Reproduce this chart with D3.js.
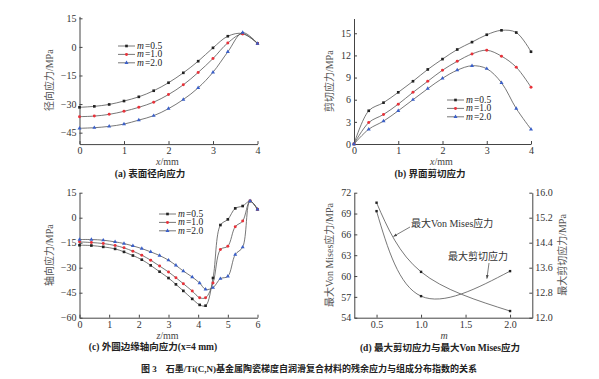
<!DOCTYPE html>
<html><head><meta charset="utf-8">
<script src="https://cdn.jsdelivr.net/npm/d3@7"></script>
<style>
body{margin:0;background:#fff}
svg text{font-family:"Liberation Serif","Noto Sans CJK SC",serif}
</style></head><body>
<svg id="chart" width="599" height="379"></svg>
<script>
// (a) surface radial stress, x in mm
const xSurf = [0, 0.333, 0.667, 1, 1.333, 1.667, 2, 2.333, 2.667, 3, 3.333, 3.667, 4]
const radialM05 = [-31.7, -31.2, -30.2, -28.4, -26.2, -23, -18.8, -13.6, -7.5, -0.5, 5.6, 7, 1.8]
const radialM10 = [-36.6, -36.3, -35.4, -33.8, -31.7, -29, -25, -19.9, -13.4, -6.1, 2.1, 6.8, 1.8]
const radialM20 = [-42.7, -42.4, -41.7, -40.5, -38.4, -36.1, -32.4, -27.6, -21.5, -13.3, -2.6, 7.5, 1.8]

// (b) interface shear stress
const shearM05 = [0, 4.5, 5.6, 7.0, 8.5, 10.1, 11.5, 12.8, 13.8, 14.8, 15.4, 15.1, 12.5]
const shearM10 = [0, 2.9, 4.0, 5.4, 7.0, 8.5, 10.0, 11.2, 12.2, 12.7, 11.9, 10.4, 7.7]
const shearM20 = [0, 2.0, 3.1, 4.5, 6.0, 7.5, 8.9, 10.0, 10.6, 10.2, 8.3, 4.8, 2.0]

// (c) axial stress on outer edge, z in mm
const zEdge = [0, 0.4, 0.8, 1.2, 1.5, 1.8, 2.1, 2.4, 2.7, 3.0, 3.25, 3.5, 3.8, 4.05, 4.25, 4.5, 4.75, 5.0, 5.25, 5.5, 5.75, 6.0]
const axialM05 = [-16.5, -16.7, -17.5, -18.7, -20.5, -22.7, -25.2, -28.6, -32.4, -36.2, -40, -43.9, -48.7, -52.3, -52.8, -36.2, -4.4, -1, 5.6, 7, 10, 5]
const axialM10 = [-14.5, -14.9, -15.5, -16.7, -18.1, -20.1, -22.5, -25.5, -29, -32.6, -36, -39.6, -44, -48, -48, -39.2, -19.1, -17.1, -5.4, -2, 10, 5]
const axialM20 = [-13.1, -13.1, -13.5, -14.5, -15.5, -16.9, -18.5, -20.5, -22.7, -25.5, -28.6, -32, -35.6, -39.2, -43, -42, -36.6, -35.2, -22.1, -17.7, 10, 5]

// (d) maxima vs m
const mVals = [0.5, 1.0, 2.0]
const maxVonMises = [70.56, 60.6, 54.96]
const maxShear = [15.41, 12.69, 13.49]

const seriesNames = ["=0.5", "=1.0", "=2.0"]
const markColors = ["#222", "#e8323a", "#3a5fc8"]
const markShapes = [d3.symbolSquare, d3.symbolCircle, d3.symbolTriangle]

const svg = d3.select("#chart")
const fmtMinus = d => d < 0 ? "\u2212" + Math.abs(d) : String(d)
const smooth = d3.curveCatmullRom.alpha(0.5)

svg.append("defs").append("marker")
  .attr("id", "arr").attr("viewBox", "0 0 10 10").attr("refX", 10).attr("refY", 5)
  .attr("markerWidth", 5).attr("markerHeight", 5).attr("orient", "auto-start-reverse")
  .append("path").attr("d", "M0,1L10,5L0,9z").attr("fill", "#444")

function styleAxis(g){
  g.attr("font-family", "Liberation Serif").attr("font-size", 10)
  g.selectAll("path,line").attr("stroke", "#444")
  g.selectAll("text").attr("fill", "#333")
}

function drawPanel(p){
  const x = d3.scaleLinear().domain(p.xDomain).range(p.xRange)
  const y = d3.scaleLinear().domain(p.yDomain).range(p.yRange)
  const g = svg.append("g")

  g.append("g").attr("transform", `translate(0,${p.yRange[0]})`)
    .call(d3.axisBottom(x).tickValues(p.xTicks).tickFormat(d3.format("d")).tickSizeInner(-3).tickSizeOuter(0).tickPadding(3))
    .call(styleAxis)
  g.append("g").attr("transform", `translate(${p.xRange[0]},0)`)
    .call(d3.axisLeft(y).tickValues(p.yTicks).tickSizeInner(-3).tickSizeOuter(0).tickPadding(3).tickFormat(fmtMinus))
    .call(styleAxis)

  p.series.forEach((vals, i) => {
    const pts = p.xs.map((v, j) => [v, vals[j]])
    g.append("path")
      .attr("d", d3.line().x(d => x(d[0])).y(d => y(d[1])).curve(smooth)(pts))
      .attr("fill", "none").attr("stroke", "#555").attr("stroke-width", 0.8)
    g.selectAll(null).data(pts).join("path")
      .attr("transform", d => `translate(${x(d[0])},${y(d[1])})`)
      .attr("d", d3.symbol(markShapes[i], 7))
      .attr("fill", markColors[i])
  })

  // legend
  seriesNames.forEach((s, i) => {
    const ly = p.legend[1] + i * 8.4
    g.append("line").attr("x1", p.legend[0]).attr("x2", p.legend[0] + 17)
      .attr("y1", ly).attr("y2", ly).attr("stroke", "#555").attr("stroke-width", 0.8)
    g.append("path").attr("transform", `translate(${p.legend[0] + 8.5},${ly})`)
      .attr("d", d3.symbol(markShapes[i], 7)).attr("fill", markColors[i])
    g.append("text").attr("x", p.legend[0] + 19).attr("y", ly + 3)
      .attr("font-size", 9.5).attr("font-style", "italic").attr("fill", "#222").text("m")
    g.append("text").attr("x", p.legend[0] + 27).attr("y", ly + 3)
      .attr("font-size", 9.5).attr("fill", "#222").text(s)
  })

  // axis titles
  const xt = g.append("text").attr("x", (p.xRange[0] + p.xRange[1]) / 2 - 1).attr("y", p.yRange[0] + 21)
    .attr("text-anchor", "middle").attr("font-size", 10).attr("fill", "#444")
  xt.append("tspan").attr("font-style", "italic").text(p.xVar)
  xt.append("tspan").text("/mm")
  g.append("text").attr("transform", `translate(${p.yTitleX},${(p.yRange[0] + p.yRange[1]) / 2}) rotate(-90)`)
    .attr("text-anchor", "middle").attr("font-size", 10).attr("fill", "#555").text(p.yTitle)

  g.append("text").attr("x", p.capPos[0]).attr("y", p.capPos[1])
    .attr("text-anchor", "middle").attr("font-size", 9.5).attr("font-weight", "bold").attr("fill", "#222")
    .text(p.caption)
}

drawPanel({
  xs: xSurf, series: [radialM05, radialM10, radialM20],
  xDomain: [0, 4], xRange: [79.5, 257.5], xTicks: [0, 1, 2, 3, 4],
  yDomain: [-51, 16], yRange: [144.1, 16.4], yTicks: [15, 0, -15, -30, -45],
  legend: [118, 46], xVar: "x", yTitle: "径向应力/MPa", yTitleX: 53,
  caption: "(a) 表面径向应力", capPos: [150, 177]
})

drawPanel({
  xs: xSurf, series: [shearM05, shearM10, shearM20],
  xDomain: [0, 4], xRange: [354, 531], xTicks: [0, 1, 2, 3, 4],
  yDomain: [0, 17], yRange: [144, 18.5], yTicks: [0, 3, 6, 9, 12, 15],
  legend: [447, 100], xVar: "x", yTitle: "剪切应力/MPa", yTitleX: 333,
  caption: "(b) 界面剪切应力", capPos: [430, 177]
})

drawPanel({
  xs: zEdge, series: [axialM05, axialM10, axialM20],
  xDomain: [0, 6], xRange: [79.5, 257.5], xTicks: [0, 1, 2, 3, 4, 5, 6],
  yDomain: [-60, 15], yRange: [317.7, 192.7], yTicks: [15, 0, -15, -30, -45, -60],
  legend: [159, 214], xVar: "z", yTitle: "轴向应力/MPa", yTitleX: 53,
  caption: "(c) 外圆边缘轴向应力(x=4 mm)", capPos: [153, 350]
})

// (d) two y axes
{
  const x = d3.scaleLinear().domain([0.25, 2.25]).range([354.3, 532.3])
  const yL = d3.scaleLinear().domain([54, 72]).range([317.7, 192.7])
  const yR = d3.scaleLinear().domain([12, 16]).range([317.7, 192.7])
  const g = svg.append("g")
  g.append("g").attr("transform", "translate(0,317.7)")
    .call(d3.axisBottom(x).tickValues([0.5, 1.0, 1.5, 2.0]).tickFormat(d3.format(".1f")).tickSizeInner(-3).tickSizeOuter(0).tickPadding(3))
    .call(styleAxis)
  g.append("g").attr("transform", "translate(354.3,0)")
    .call(d3.axisLeft(yL).tickValues([54, 57, 60, 63, 66, 69, 72]).tickSizeInner(-3).tickSizeOuter(0).tickPadding(3))
    .call(styleAxis)
  g.append("g").attr("transform", "translate(532.3,0)")
    .call(d3.axisRight(yR).tickValues([12, 12.8, 13.6, 14.4, 15.2, 16]).tickFormat(d3.format(".1f")).tickSizeInner(-3).tickSizeOuter(0).tickPadding(3))
    .call(styleAxis)

  const vm = mVals.map((m, i) => [m, maxVonMises[i]])
  const sh = mVals.map((m, i) => [m, maxShear[i]])
  g.append("path").attr("d", d3.line().x(d => x(d[0])).y(d => yL(d[1])).curve(d3.curveNatural)(vm))
    .attr("fill", "none").attr("stroke", "#555").attr("stroke-width", 0.8)
  g.append("path").attr("d", d3.line().x(d => x(d[0])).y(d => yR(d[1])).curve(d3.curveNatural)(sh))
    .attr("fill", "none").attr("stroke", "#555").attr("stroke-width", 0.8)
  g.selectAll(null).data(vm).join("rect")
    .attr("x", d => x(d[0]) - 1.2).attr("y", d => yL(d[1]) - 1.2).attr("width", 2.4).attr("height", 2.4).attr("fill", "#222")
  g.selectAll(null).data(sh).join("rect")
    .attr("x", d => x(d[0]) - 1.2).attr("y", d => yR(d[1]) - 1.2).attr("width", 2.4).attr("height", 2.4).attr("fill", "#222")

  // annotations
  g.append("text").attr("x", 411).attr("y", 226.5).attr("font-size", 10).attr("fill", "#333").text("最大Von Mises应力")
  g.append("line").attr("x1", 410).attr("y1", 227).attr("x2", x(0.69)).attr("y2", yL(65.7))
    .attr("stroke", "#444").attr("stroke-width", 0.7).attr("marker-end", "url(#arr)")
  g.append("text").attr("x", 448).attr("y", 260).attr("font-size", 10).attr("fill", "#333").text("最大剪切应力")
  g.append("line").attr("x1", 489).attr("y1", 263).attr("x2", x(1.74)).attr("y2", yR(13.25))
    .attr("stroke", "#444").attr("stroke-width", 0.7).attr("marker-end", "url(#arr)")

  g.append("text").attr("x", 444).attr("y", 339).attr("text-anchor", "middle").attr("font-size", 10)
    .attr("font-style", "italic").attr("fill", "#444").text("m")
  g.append("text").attr("transform", "translate(333,255) rotate(-90)").attr("text-anchor", "middle")
    .attr("font-size", 10).attr("fill", "#555").text("最大Von Mises应力/MPa")
  g.append("text").attr("transform", "translate(566,255) rotate(-90)").attr("text-anchor", "middle")
    .attr("font-size", 10).attr("fill", "#555").text("最大剪切应力/MPa")
  g.append("text").attr("x", 440).attr("y", 351).attr("text-anchor", "middle").attr("font-size", 9.5)
    .attr("font-weight", "bold").attr("fill", "#222").text("(d) 最大剪切应力与最大Von Mises应力")
}

svg.append("text").attr("x", 309).attr("y", 372).attr("text-anchor", "middle").attr("font-size", 9)
  .attr("font-weight", "bold").attr("fill", "#222")
  .text("图 3\u3000石墨/Ti(C,N)基金属陶瓷梯度自润滑复合材料的残余应力与组成分布指数的关系")
</script>
</body></html>
